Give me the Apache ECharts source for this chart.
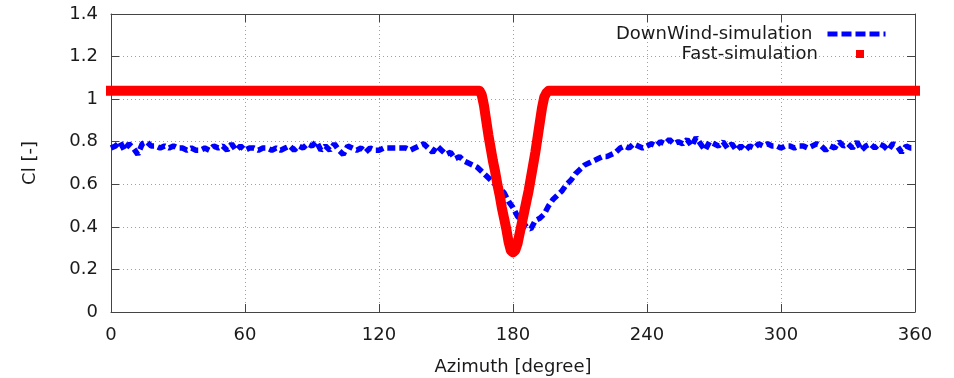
<!DOCTYPE html>
<html>
<head>
<meta charset="utf-8">
<script src="https://cdn.jsdelivr.net/npm/echarts@6/dist/echarts.min.js"></script>
<style>
html,body{margin:0;padding:0;background:#fff;}
#chart{width:954px;height:378px;}
</style>
</head>
<body>
<div id="chart"></div>
<script>
// Azimuth step for DownWind-simulation samples (degrees)
const blueStep = 2;
const blueCl = [
  0.77,0.78,0.80,0.76,0.79,0.77,0.74,0.79,0.80,0.78,
  0.78,0.77,0.78,0.77,0.78,0.77,0.77,0.76,0.77,0.76,
  0.76,0.77,0.76,0.78,0.77,0.78,0.76,0.79,0.76,0.78,
  0.76,0.77,0.77,0.76,0.77,0.77,0.76,0.77,0.76,0.77,
  0.78,0.76,0.78,0.77,0.79,0.78,0.80,0.76,0.78,0.76,
  0.79,0.76,0.74,0.78,0.77,0.76,0.77,0.75,0.77,0.76,
  0.76,0.77,0.77,0.77,0.77,0.77,0.77,0.76,0.77,0.78,
  0.79,0.77,0.75,0.78,0.76,0.74,0.75,0.72,0.73,0.71,
  0.70,0.69,0.68,0.66,0.64,0.62,0.60,0.58,0.56,0.52,
  0.49,0.45,0.43,0.40,0.39,0.43,0.44,0.46,0.50,0.53,
  0.55,0.57,0.60,0.62,0.65,0.67,0.69,0.70,0.71,0.72,
  0.73,0.73,0.74,0.75,0.77,0.78,0.77,0.79,0.78,0.77,
  0.78,0.79,0.78,0.80,0.79,0.81,0.79,0.80,0.79,0.81,
  0.78,0.82,0.79,0.76,0.80,0.79,0.78,0.80,0.77,0.79,
  0.76,0.78,0.76,0.78,0.77,0.79,0.78,0.79,0.78,0.78,
  0.77,0.78,0.78,0.77,0.78,0.78,0.77,0.78,0.79,0.78,
  0.76,0.78,0.77,0.80,0.78,0.79,0.77,0.80,0.76,0.78,
  0.79,0.77,0.79,0.78,0.76,0.79,0.78,0.75,0.78,0.77,
  0.77
];
const redAz = [0,164,165,166,167,168,169,170,171,172,173,174,175,176,177,178,179,180,
  181,182,183,184,185,186,187,188,189,190,191,192,193,194,195,196,360];
const redCl = [1.04,1.04,1.04,1.02,0.97,0.90,0.83,0.77,0.71,0.66,0.60,0.55,0.49,0.44,0.39,0.33,0.29,0.28,
  0.29,0.32,0.37,0.42,0.47,0.52,0.57,0.63,0.69,0.75,0.82,0.89,0.96,1.01,1.03,1.04,1.04];
const xTicks = [0,60,120,180,240,300,360];
const yTicks = [0,0.2,0.4,0.6,0.8,1,1.2,1.4];
const seriesNames = ['DownWind-simulation','Fast-simulation'];
const xName = 'Azimuth [degree]';
const yName = 'Cl [-]';

const blueData = blueCl.map((v,i)=>[i*blueStep, v]);
const redData = redAz.map((a,i)=>[a, redCl[i]]);

const FONT = 'DejaVu Sans';
const FS = 18;
const TXT = '#1a1a1a';
const FRAME = '#444';
const chart = echarts.init(document.getElementById('chart'), null, {renderer:'canvas'});
const tick = () => ({show:true, inside:true, length:8, lineStyle:{color:FRAME, width:1}});
const grid = () => ({show:true, lineStyle:{color:'#a0a0a0', width:1, type:[1,3]}});
chart.setOption({
  animation:false,
  backgroundColor:'#fff',
  grid:{left:111, right:39, top:14, bottom:66, containLabel:false, outerBoundsMode:'none'},
  legend:[
    {data:[seriesNames[0]], orient:'vertical', align:'right', right:66, top:25, padding:0,
     itemWidth:58, itemHeight:14, itemGap:0,
     itemStyle:{color:'rgba(0,0,0,0)', borderWidth:0},
     lineStyle:{width:5, color:'#0000ff', type:[10,4]},
     textStyle:{fontFamily:FONT, fontSize:FS, color:TXT, padding:[0,10,0,0]}},
    {data:[{name:seriesNames[1], icon:'rect'}], orient:'vertical', align:'right', right:90, top:45, padding:0,
     itemWidth:8, itemHeight:8, itemGap:0,
     itemStyle:{color:'#ff0000'},
     textStyle:{fontFamily:FONT, fontSize:FS, color:TXT, padding:[0,33,0,0]}}
  ],
  xAxis:[
    {type:'value', min:0, max:360, interval:60, position:'bottom',
     name:xName, nameLocation:'middle', nameGap:46,
     nameTextStyle:{fontFamily:FONT, fontSize:FS, color:TXT},
     axisLine:{show:true, onZero:false, lineStyle:{color:FRAME, width:1}},
     axisTick:tick(), splitLine:grid(),
     axisLabel:{fontFamily:FONT, fontSize:FS, color:TXT, margin:14}},
    {type:'value', min:0, max:360, interval:60, position:'top',
     axisLine:{show:true, onZero:false, lineStyle:{color:FRAME, width:1}},
     axisTick:tick(), splitLine:{show:false}, axisLabel:{show:false}}
  ],
  yAxis:[
    {type:'value', min:0, max:1.4, interval:0.2, position:'left',
     name:yName, nameLocation:'middle', nameGap:72,
     nameTextStyle:{fontFamily:FONT, fontSize:FS, color:TXT},
     axisLine:{show:true, onZero:false, lineStyle:{color:FRAME, width:1}},
     axisTick:tick(), splitLine:grid(),
     axisLabel:{fontFamily:FONT, fontSize:FS, color:TXT, margin:13}},
    {type:'value', min:0, max:1.4, interval:0.2, position:'right',
     axisLine:{show:true, onZero:false, lineStyle:{color:FRAME, width:1}},
     axisTick:tick(), splitLine:{show:false}, axisLabel:{show:false}}
  ],
  series:[
    {name:seriesNames[0], type:'line', data:blueData, symbol:'none', z:2,
     lineStyle:{color:'#0000ff', width:5.5, type:[8,4]}, itemStyle:{color:'#0000ff'}},
    {name:seriesNames[1], type:'line', data:redData, symbol:'none', z:3, clip:false,
     lineStyle:{color:'#ff0000', width:10, cap:'square', join:'round'}, itemStyle:{color:'#ff0000'}}
  ]
});
</script>
</body>
</html>
